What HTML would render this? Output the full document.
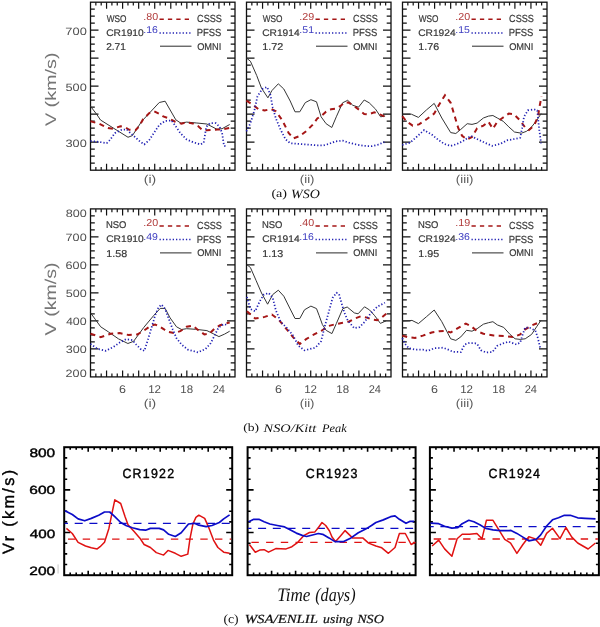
<!DOCTYPE html>
<html><head><meta charset="utf-8"><style>
html,body{margin:0;padding:0;background:#fff;}
svg{display:block;will-change:transform;} text{text-rendering:geometricPrecision;}
</style></head><body>
<svg width="600" height="627" viewBox="0 0 600 627">
<rect width="600" height="627" fill="#fff"/>
<path d="M95.85,170.20v-3.3 M95.85,2.20v3.3 M101.20,170.20v-3.3 M101.20,2.20v3.3 M106.56,170.20v-6.5 M106.56,2.20v6.5 M111.91,170.20v-3.3 M111.91,2.20v3.3 M117.26,170.20v-3.3 M117.26,2.20v3.3 M122.61,170.20v-6.5 M122.61,2.20v6.5 M127.96,170.20v-3.3 M127.96,2.20v3.3 M133.31,170.20v-3.3 M133.31,2.20v3.3 M138.67,170.20v-6.5 M138.67,2.20v6.5 M144.02,170.20v-3.3 M144.02,2.20v3.3 M149.37,170.20v-3.3 M149.37,2.20v3.3 M154.72,170.20v-6.5 M154.72,2.20v6.5 M160.07,170.20v-3.3 M160.07,2.20v3.3 M165.43,170.20v-3.3 M165.43,2.20v3.3 M170.78,170.20v-6.5 M170.78,2.20v6.5 M176.13,170.20v-3.3 M176.13,2.20v3.3 M181.48,170.20v-3.3 M181.48,2.20v3.3 M186.83,170.20v-6.5 M186.83,2.20v6.5 M192.19,170.20v-3.3 M192.19,2.20v3.3 M197.54,170.20v-3.3 M197.54,2.20v3.3 M202.89,170.20v-6.5 M202.89,2.20v6.5 M208.24,170.20v-3.3 M208.24,2.20v3.3 M213.59,170.20v-3.3 M213.59,2.20v3.3 M218.94,170.20v-6.5 M218.94,2.20v6.5 M224.30,170.20v-3.3 M224.30,2.20v3.3 M229.65,170.20v-3.3 M229.65,2.20v3.3 M90.50,163.20h4.3 M235.00,163.20h-4.3 M90.50,156.20h4.3 M235.00,156.20h-4.3 M90.50,149.20h4.3 M235.00,149.20h-4.3 M90.50,142.20h8 M235.00,142.20h-8 M90.50,135.20h4.3 M235.00,135.20h-4.3 M90.50,128.20h4.3 M235.00,128.20h-4.3 M90.50,121.20h4.3 M235.00,121.20h-4.3 M90.50,114.20h8 M235.00,114.20h-8 M90.50,107.20h4.3 M235.00,107.20h-4.3 M90.50,100.20h4.3 M235.00,100.20h-4.3 M90.50,93.20h4.3 M235.00,93.20h-4.3 M90.50,86.20h8 M235.00,86.20h-8 M90.50,79.20h4.3 M235.00,79.20h-4.3 M90.50,72.20h4.3 M235.00,72.20h-4.3 M90.50,65.20h4.3 M235.00,65.20h-4.3 M90.50,58.20h8 M235.00,58.20h-8 M90.50,51.20h4.3 M235.00,51.20h-4.3 M90.50,44.20h4.3 M235.00,44.20h-4.3 M90.50,37.20h4.3 M235.00,37.20h-4.3 M90.50,30.20h8 M235.00,30.20h-8 M90.50,23.20h4.3 M235.00,23.20h-4.3 M90.50,16.20h4.3 M235.00,16.20h-4.3 M90.50,9.20h4.3 M235.00,9.20h-4.3" stroke="#111" stroke-width="1.2" fill="none"/>
<rect x="90.50" y="2.20" width="144.5" height="168.0" stroke="#111" stroke-width="1.3" fill="none"/>
<path d="M90.50,106.25 L96.75,114.40 L100.50,120.00 L128.00,137.25 L132.40,135.60 L141.75,121.25 L159.25,102.50 L165.10,101.20 L175.80,119.80 L180.90,123.20 L186.60,122.10 L196.80,123.00 L206.90,124.00 L217.00,129.30 L222.10,128.70 L229.70,124.50" stroke="#353535" stroke-width="1" fill="none" stroke-linejoin="round"/>
<path d="M90.50,121.25 L99.25,123.75 L108.00,128.10 L113.00,128.75 L120.50,126.25 L125.50,127.50 L129.25,129.75 L135.50,130.25 L139.25,126.25 L143.00,119.40 L149.25,113.10 L154.25,111.25 L159.25,113.75 L163.20,116.40 L167.60,117.90 L175.20,121.70 L181.50,123.60 L186.60,122.30 L193.00,123.60 L198.00,126.10 L202.50,130.00 L206.90,130.30 L212.00,130.00 L217.70,129.50 L222.10,129.50 L229.70,128.00" stroke="#a51616" stroke-width="2" fill="none" stroke-dasharray="5 4.4"/>
<path d="M90.50,141.00 L99.25,141.90 L106.75,143.10 L109.90,140.00 L114.90,133.10 L121.75,129.75 L126.75,129.40 L130.50,133.10 L135.50,137.50 L140.50,141.90 L144.25,144.40 L149.25,140.00 L154.25,132.50 L159.25,125.00 L165.00,121.00 L171.40,120.40 L175.20,125.50 L180.30,133.10 L186.60,139.40 L193.00,142.20 L200.60,144.50 L203.70,142.60 L206.30,126.80 L210.00,123.20 L215.80,123.20 L219.60,126.80 L222.10,133.10 L224.00,145.80 L227.20,146.40" stroke="#2222b4" stroke-width="1.75" fill="none" stroke-dasharray="1.25 2"/>
<text x="106.66" y="21.70" font-family='"Liberation Sans", sans-serif' font-size="9.75" textLength="19.74" lengthAdjust="spacingAndGlyphs" fill="#383838" stroke="#383838" stroke-width="0.2">WSO</text>
<text x="143.34" y="19.50" font-family='"Liberation Sans", sans-serif' font-size="10.18" textLength="14.87" lengthAdjust="spacingAndGlyphs" fill="#b03a3a">.80</text>
<path d="M159.50,19.20H192.50" stroke="#a51616" stroke-width="1.5" stroke-dasharray="4.3 4.1"/>
<text x="197.04" y="22.10" font-family='"Liberation Sans", sans-serif' font-size="10.32" textLength="24.87" lengthAdjust="spacingAndGlyphs" fill="#383838" stroke="#383838" stroke-width="0.2">CSSS</text>
<text x="106.19" y="35.70" font-family='"Liberation Sans", sans-serif' font-size="9.61" textLength="37.51" lengthAdjust="spacingAndGlyphs" fill="#383838" stroke="#383838" stroke-width="0.2">CR1910</text>
<text x="143.36" y="32.80" font-family='"Liberation Sans", sans-serif' font-size="9.89" textLength="14.59" lengthAdjust="spacingAndGlyphs" fill="#3c3cc0">.16</text>
<path d="M159.50,32.90H192.50" stroke="#2222b4" stroke-width="1.5" stroke-dasharray="1.3 2"/>
<text x="196.72" y="36.10" font-family='"Liberation Sans", sans-serif' font-size="10.32" textLength="24.70" lengthAdjust="spacingAndGlyphs" fill="#383838" stroke="#383838" stroke-width="0.2">PFSS</text>
<text x="106.19" y="50.20" font-family='"Liberation Sans", sans-serif' font-size="9.89" textLength="19.70" lengthAdjust="spacingAndGlyphs" fill="#383838" stroke="#383838" stroke-width="0.2">2.71</text>
<path d="M160.00,46.20H191.50" stroke="#2a2a2a" stroke-width="1"/>
<text x="197.16" y="49.70" font-family='"Liberation Sans", sans-serif' font-size="9.75" textLength="24.21" lengthAdjust="spacingAndGlyphs" fill="#383838" stroke="#383838" stroke-width="0.2">OMNI</text>
<path d="M251.85,170.20v-3.3 M251.85,2.20v3.3 M257.20,170.20v-3.3 M257.20,2.20v3.3 M262.56,170.20v-6.5 M262.56,2.20v6.5 M267.91,170.20v-3.3 M267.91,2.20v3.3 M273.26,170.20v-3.3 M273.26,2.20v3.3 M278.61,170.20v-6.5 M278.61,2.20v6.5 M283.96,170.20v-3.3 M283.96,2.20v3.3 M289.31,170.20v-3.3 M289.31,2.20v3.3 M294.67,170.20v-6.5 M294.67,2.20v6.5 M300.02,170.20v-3.3 M300.02,2.20v3.3 M305.37,170.20v-3.3 M305.37,2.20v3.3 M310.72,170.20v-6.5 M310.72,2.20v6.5 M316.07,170.20v-3.3 M316.07,2.20v3.3 M321.43,170.20v-3.3 M321.43,2.20v3.3 M326.78,170.20v-6.5 M326.78,2.20v6.5 M332.13,170.20v-3.3 M332.13,2.20v3.3 M337.48,170.20v-3.3 M337.48,2.20v3.3 M342.83,170.20v-6.5 M342.83,2.20v6.5 M348.19,170.20v-3.3 M348.19,2.20v3.3 M353.54,170.20v-3.3 M353.54,2.20v3.3 M358.89,170.20v-6.5 M358.89,2.20v6.5 M364.24,170.20v-3.3 M364.24,2.20v3.3 M369.59,170.20v-3.3 M369.59,2.20v3.3 M374.94,170.20v-6.5 M374.94,2.20v6.5 M380.30,170.20v-3.3 M380.30,2.20v3.3 M385.65,170.20v-3.3 M385.65,2.20v3.3 M246.50,163.20h4.3 M391.00,163.20h-4.3 M246.50,156.20h4.3 M391.00,156.20h-4.3 M246.50,149.20h4.3 M391.00,149.20h-4.3 M246.50,142.20h8 M391.00,142.20h-8 M246.50,135.20h4.3 M391.00,135.20h-4.3 M246.50,128.20h4.3 M391.00,128.20h-4.3 M246.50,121.20h4.3 M391.00,121.20h-4.3 M246.50,114.20h8 M391.00,114.20h-8 M246.50,107.20h4.3 M391.00,107.20h-4.3 M246.50,100.20h4.3 M391.00,100.20h-4.3 M246.50,93.20h4.3 M391.00,93.20h-4.3 M246.50,86.20h8 M391.00,86.20h-8 M246.50,79.20h4.3 M391.00,79.20h-4.3 M246.50,72.20h4.3 M391.00,72.20h-4.3 M246.50,65.20h4.3 M391.00,65.20h-4.3 M246.50,58.20h8 M391.00,58.20h-8 M246.50,51.20h4.3 M391.00,51.20h-4.3 M246.50,44.20h4.3 M391.00,44.20h-4.3 M246.50,37.20h4.3 M391.00,37.20h-4.3 M246.50,30.20h8 M391.00,30.20h-8 M246.50,23.20h4.3 M391.00,23.20h-4.3 M246.50,16.20h4.3 M391.00,16.20h-4.3 M246.50,9.20h4.3 M391.00,9.20h-4.3" stroke="#111" stroke-width="1.2" fill="none"/>
<rect x="246.50" y="2.20" width="144.5" height="168.0" stroke="#111" stroke-width="1.3" fill="none"/>
<path d="M246.40,58.00 L250.40,61.20 L256.70,75.50 L261.50,88.20 L267.90,97.80 L271.90,90.60 L278.30,83.80 L283.80,89.00 L290.20,101.00 L295.00,111.80 L299.80,111.80 L305.30,102.60 L310.90,99.70 L316.50,101.80 L321.10,116.80 L326.10,123.70 L331.80,127.50 L336.30,116.80 L342.60,102.80 L347.70,100.30 L352.80,105.30 L358.50,107.20 L364.20,100.00 L369.20,102.80 L375.60,109.20 L380.60,116.80 L385.10,116.10" stroke="#353535" stroke-width="1" fill="none" stroke-linejoin="round"/>
<path d="M246.40,100.70 L252.00,104.20 L258.30,109.00 L264.70,110.50 L271.10,109.00 L275.90,111.30 L282.20,120.10 L288.60,132.90 L293.40,138.40 L299.80,136.00 L306.10,131.30 L312.50,124.90 L317.30,118.50 L321.10,116.10 L326.10,111.70 L331.20,109.20 L336.30,108.50 L341.30,105.30 L345.20,102.20 L349.00,102.80 L354.00,106.00 L359.10,109.80 L364.20,114.00 L368.00,114.50 L374.30,112.30 L379.40,114.20 L385.10,116.80" stroke="#a51616" stroke-width="2" fill="none" stroke-dasharray="5 4.4"/>
<path d="M246.40,131.30 L250.40,123.30 L254.40,110.50 L257.50,96.20 L262.30,89.00 L267.10,87.00 L270.30,94.60 L272.70,107.40 L275.90,118.50 L280.60,129.70 L285.40,139.20 L290.20,143.20 L299.80,144.00 L310.90,144.80 L316.00,145.30 L323.60,145.30 L328.70,144.00 L335.00,141.50 L342.60,140.60 L349.00,142.70 L356.60,144.60 L364.20,145.90 L371.80,146.20 L378.10,144.60 L384.40,142.10" stroke="#2222b4" stroke-width="1.75" fill="none" stroke-dasharray="1.25 2"/>
<text x="262.66" y="21.70" font-family='"Liberation Sans", sans-serif' font-size="9.75" textLength="19.74" lengthAdjust="spacingAndGlyphs" fill="#383838" stroke="#383838" stroke-width="0.2">WSO</text>
<text x="299.33" y="19.50" font-family='"Liberation Sans", sans-serif' font-size="10.18" textLength="14.95" lengthAdjust="spacingAndGlyphs" fill="#b03a3a">.29</text>
<path d="M315.50,19.20H348.50" stroke="#a51616" stroke-width="1.5" stroke-dasharray="4.3 4.1"/>
<text x="353.04" y="22.10" font-family='"Liberation Sans", sans-serif' font-size="10.32" textLength="24.87" lengthAdjust="spacingAndGlyphs" fill="#383838" stroke="#383838" stroke-width="0.2">CSSS</text>
<text x="262.19" y="35.70" font-family='"Liberation Sans", sans-serif' font-size="9.61" textLength="37.41" lengthAdjust="spacingAndGlyphs" fill="#383838" stroke="#383838" stroke-width="0.2">CR1914</text>
<text x="299.35" y="32.80" font-family='"Liberation Sans", sans-serif' font-size="9.89" textLength="14.65" lengthAdjust="spacingAndGlyphs" fill="#3c3cc0">.51</text>
<path d="M315.50,32.90H348.50" stroke="#2222b4" stroke-width="1.5" stroke-dasharray="1.3 2"/>
<text x="352.72" y="36.10" font-family='"Liberation Sans", sans-serif' font-size="10.32" textLength="24.70" lengthAdjust="spacingAndGlyphs" fill="#383838" stroke="#383838" stroke-width="0.2">PFSS</text>
<text x="262.29" y="50.20" font-family='"Liberation Sans", sans-serif' font-size="9.89" textLength="20.96" lengthAdjust="spacingAndGlyphs" fill="#383838" stroke="#383838" stroke-width="0.2">1.72</text>
<path d="M316.00,46.20H347.50" stroke="#2a2a2a" stroke-width="1"/>
<text x="353.16" y="49.70" font-family='"Liberation Sans", sans-serif' font-size="9.75" textLength="24.21" lengthAdjust="spacingAndGlyphs" fill="#383838" stroke="#383838" stroke-width="0.2">OMNI</text>
<path d="M407.85,170.20v-3.3 M407.85,2.20v3.3 M413.20,170.20v-3.3 M413.20,2.20v3.3 M418.56,170.20v-6.5 M418.56,2.20v6.5 M423.91,170.20v-3.3 M423.91,2.20v3.3 M429.26,170.20v-3.3 M429.26,2.20v3.3 M434.61,170.20v-6.5 M434.61,2.20v6.5 M439.96,170.20v-3.3 M439.96,2.20v3.3 M445.31,170.20v-3.3 M445.31,2.20v3.3 M450.67,170.20v-6.5 M450.67,2.20v6.5 M456.02,170.20v-3.3 M456.02,2.20v3.3 M461.37,170.20v-3.3 M461.37,2.20v3.3 M466.72,170.20v-6.5 M466.72,2.20v6.5 M472.07,170.20v-3.3 M472.07,2.20v3.3 M477.43,170.20v-3.3 M477.43,2.20v3.3 M482.78,170.20v-6.5 M482.78,2.20v6.5 M488.13,170.20v-3.3 M488.13,2.20v3.3 M493.48,170.20v-3.3 M493.48,2.20v3.3 M498.83,170.20v-6.5 M498.83,2.20v6.5 M504.19,170.20v-3.3 M504.19,2.20v3.3 M509.54,170.20v-3.3 M509.54,2.20v3.3 M514.89,170.20v-6.5 M514.89,2.20v6.5 M520.24,170.20v-3.3 M520.24,2.20v3.3 M525.59,170.20v-3.3 M525.59,2.20v3.3 M530.94,170.20v-6.5 M530.94,2.20v6.5 M536.30,170.20v-3.3 M536.30,2.20v3.3 M541.65,170.20v-3.3 M541.65,2.20v3.3 M402.50,163.20h4.3 M547.00,163.20h-4.3 M402.50,156.20h4.3 M547.00,156.20h-4.3 M402.50,149.20h4.3 M547.00,149.20h-4.3 M402.50,142.20h8 M547.00,142.20h-8 M402.50,135.20h4.3 M547.00,135.20h-4.3 M402.50,128.20h4.3 M547.00,128.20h-4.3 M402.50,121.20h4.3 M547.00,121.20h-4.3 M402.50,114.20h8 M547.00,114.20h-8 M402.50,107.20h4.3 M547.00,107.20h-4.3 M402.50,100.20h4.3 M547.00,100.20h-4.3 M402.50,93.20h4.3 M547.00,93.20h-4.3 M402.50,86.20h8 M547.00,86.20h-8 M402.50,79.20h4.3 M547.00,79.20h-4.3 M402.50,72.20h4.3 M547.00,72.20h-4.3 M402.50,65.20h4.3 M547.00,65.20h-4.3 M402.50,58.20h8 M547.00,58.20h-8 M402.50,51.20h4.3 M547.00,51.20h-4.3 M402.50,44.20h4.3 M547.00,44.20h-4.3 M402.50,37.20h4.3 M547.00,37.20h-4.3 M402.50,30.20h8 M547.00,30.20h-8 M402.50,23.20h4.3 M547.00,23.20h-4.3 M402.50,16.20h4.3 M547.00,16.20h-4.3 M402.50,9.20h4.3 M547.00,9.20h-4.3" stroke="#111" stroke-width="1.2" fill="none"/>
<rect x="402.50" y="2.20" width="144.5" height="168.0" stroke="#111" stroke-width="1.3" fill="none"/>
<path d="M402.30,114.20 L411.40,114.20 L418.40,117.40 L426.60,109.80 L434.20,103.40 L441.80,118.00 L450.70,132.60 L455.80,133.50 L460.80,129.40 L467.20,123.70 L472.00,124.40 L477.10,123.10 L483.40,118.00 L488.50,116.10 L492.90,115.50 L497.30,118.00 L503.10,121.20 L508.80,126.90 L514.50,132.00 L521.40,133.20 L526.50,131.30 L531.60,126.90 L536.60,120.60 L541.10,113.60" stroke="#353535" stroke-width="1" fill="none" stroke-linejoin="round"/>
<path d="M402.30,116.10 L406.30,121.20 L412.70,125.60 L419.00,124.40 L426.60,119.30 L434.20,113.60 L438.00,106.60 L441.80,100.30 L445.00,95.20 L450.70,102.80 L454.50,115.50 L458.30,128.20 L462.10,135.80 L467.20,139.60 L472.00,137.00 L477.10,128.20 L483.40,125.60 L488.50,121.80 L492.90,128.80 L497.30,121.80 L502.40,118.00 L508.80,113.60 L513.80,114.20 L520.20,120.60 L525.20,127.50 L529.00,130.10 L534.10,125.60 L537.90,116.80 L539.80,105.30 L541.50,96.50" stroke="#a51616" stroke-width="2" fill="none" stroke-dasharray="5 4.4"/>
<path d="M402.30,144.90 L410.10,142.70 L416.50,137.00 L424.10,130.10 L431.70,134.50 L438.00,139.60 L444.40,144.00 L450.70,145.90 L457.00,144.00 L463.40,140.80 L471.00,135.80 L476.00,138.60 L478.30,139.60 L484.70,142.70 L492.30,145.90 L499.90,144.00 L507.50,140.20 L515.10,138.90 L520.20,137.70 L522.10,128.20 L524.00,116.80 L527.80,110.40 L534.10,109.40 L537.30,110.40 L537.90,116.80 L539.20,129.40 L541.10,143.40" stroke="#2222b4" stroke-width="1.75" fill="none" stroke-dasharray="1.25 2"/>
<text x="418.66" y="21.70" font-family='"Liberation Sans", sans-serif' font-size="9.75" textLength="19.74" lengthAdjust="spacingAndGlyphs" fill="#383838" stroke="#383838" stroke-width="0.2">WSO</text>
<text x="455.34" y="19.50" font-family='"Liberation Sans", sans-serif' font-size="10.18" textLength="14.87" lengthAdjust="spacingAndGlyphs" fill="#b03a3a">.20</text>
<path d="M471.50,19.20H504.50" stroke="#a51616" stroke-width="1.5" stroke-dasharray="4.3 4.1"/>
<text x="509.04" y="22.10" font-family='"Liberation Sans", sans-serif' font-size="10.32" textLength="24.87" lengthAdjust="spacingAndGlyphs" fill="#383838" stroke="#383838" stroke-width="0.2">CSSS</text>
<text x="418.19" y="35.70" font-family='"Liberation Sans", sans-serif' font-size="9.61" textLength="37.41" lengthAdjust="spacingAndGlyphs" fill="#383838" stroke="#383838" stroke-width="0.2">CR1924</text>
<text x="455.36" y="32.80" font-family='"Liberation Sans", sans-serif' font-size="9.89" textLength="14.56" lengthAdjust="spacingAndGlyphs" fill="#3c3cc0">.15</text>
<path d="M471.50,32.90H504.50" stroke="#2222b4" stroke-width="1.5" stroke-dasharray="1.3 2"/>
<text x="508.72" y="36.10" font-family='"Liberation Sans", sans-serif' font-size="10.32" textLength="24.70" lengthAdjust="spacingAndGlyphs" fill="#383838" stroke="#383838" stroke-width="0.2">PFSS</text>
<text x="418.30" y="50.20" font-family='"Liberation Sans", sans-serif' font-size="9.89" textLength="20.87" lengthAdjust="spacingAndGlyphs" fill="#383838" stroke="#383838" stroke-width="0.2">1.76</text>
<path d="M472.00,46.20H503.50" stroke="#2a2a2a" stroke-width="1"/>
<text x="509.16" y="49.70" font-family='"Liberation Sans", sans-serif' font-size="9.75" textLength="24.21" lengthAdjust="spacingAndGlyphs" fill="#383838" stroke="#383838" stroke-width="0.2">OMNI</text>
<text x="65.36" y="34.60" font-family='"Liberation Sans", sans-serif' font-size="10.61" textLength="21.44" lengthAdjust="spacingAndGlyphs" fill="#505050">700</text>
<text x="65.49" y="90.60" font-family='"Liberation Sans", sans-serif' font-size="10.61" textLength="21.30" lengthAdjust="spacingAndGlyphs" fill="#505050">500</text>
<text x="65.52" y="146.60" font-family='"Liberation Sans", sans-serif' font-size="10.61" textLength="21.27" lengthAdjust="spacingAndGlyphs" fill="#505050">300</text>
<text transform="translate(55.50,126.10) rotate(-90)" x="0" y="0" font-family='"Liberation Sans", sans-serif' font-size="15.27" textLength="73.72" lengthAdjust="spacingAndGlyphs" fill="#767676">V (km/s)</text>
<text x="143.83" y="183.32" font-family='"Liberation Sans", sans-serif' font-size="11.47" textLength="12.42" lengthAdjust="spacingAndGlyphs" fill="#5a5a5a">(i)</text>
<text x="299.88" y="183.32" font-family='"Liberation Sans", sans-serif' font-size="11.47" textLength="14.62" lengthAdjust="spacingAndGlyphs" fill="#5a5a5a">(ii)</text>
<text x="455.87" y="183.32" font-family='"Liberation Sans", sans-serif' font-size="11.47" textLength="17.62" lengthAdjust="spacingAndGlyphs" fill="#5a5a5a">(iii)</text>
<path d="M95.85,376.90v-3.3 M95.85,208.90v3.3 M101.20,376.90v-3.3 M101.20,208.90v3.3 M106.56,376.90v-6.5 M106.56,208.90v6.5 M111.91,376.90v-3.3 M111.91,208.90v3.3 M117.26,376.90v-3.3 M117.26,208.90v3.3 M122.61,376.90v-6.5 M122.61,208.90v6.5 M127.96,376.90v-3.3 M127.96,208.90v3.3 M133.31,376.90v-3.3 M133.31,208.90v3.3 M138.67,376.90v-6.5 M138.67,208.90v6.5 M144.02,376.90v-3.3 M144.02,208.90v3.3 M149.37,376.90v-3.3 M149.37,208.90v3.3 M154.72,376.90v-6.5 M154.72,208.90v6.5 M160.07,376.90v-3.3 M160.07,208.90v3.3 M165.43,376.90v-3.3 M165.43,208.90v3.3 M170.78,376.90v-6.5 M170.78,208.90v6.5 M176.13,376.90v-3.3 M176.13,208.90v3.3 M181.48,376.90v-3.3 M181.48,208.90v3.3 M186.83,376.90v-6.5 M186.83,208.90v6.5 M192.19,376.90v-3.3 M192.19,208.90v3.3 M197.54,376.90v-3.3 M197.54,208.90v3.3 M202.89,376.90v-6.5 M202.89,208.90v6.5 M208.24,376.90v-3.3 M208.24,208.90v3.3 M213.59,376.90v-3.3 M213.59,208.90v3.3 M218.94,376.90v-6.5 M218.94,208.90v6.5 M224.30,376.90v-3.3 M224.30,208.90v3.3 M229.65,376.90v-3.3 M229.65,208.90v3.3 M90.50,369.90h4.3 M235.00,369.90h-4.3 M90.50,362.90h4.3 M235.00,362.90h-4.3 M90.50,355.90h4.3 M235.00,355.90h-4.3 M90.50,348.90h8 M235.00,348.90h-8 M90.50,341.90h4.3 M235.00,341.90h-4.3 M90.50,334.90h4.3 M235.00,334.90h-4.3 M90.50,327.90h4.3 M235.00,327.90h-4.3 M90.50,320.90h8 M235.00,320.90h-8 M90.50,313.90h4.3 M235.00,313.90h-4.3 M90.50,306.90h4.3 M235.00,306.90h-4.3 M90.50,299.90h4.3 M235.00,299.90h-4.3 M90.50,292.90h8 M235.00,292.90h-8 M90.50,285.90h4.3 M235.00,285.90h-4.3 M90.50,278.90h4.3 M235.00,278.90h-4.3 M90.50,271.90h4.3 M235.00,271.90h-4.3 M90.50,264.90h8 M235.00,264.90h-8 M90.50,257.90h4.3 M235.00,257.90h-4.3 M90.50,250.90h4.3 M235.00,250.90h-4.3 M90.50,243.90h4.3 M235.00,243.90h-4.3 M90.50,236.90h8 M235.00,236.90h-8 M90.50,229.90h4.3 M235.00,229.90h-4.3 M90.50,222.90h4.3 M235.00,222.90h-4.3 M90.50,215.90h4.3 M235.00,215.90h-4.3" stroke="#111" stroke-width="1.2" fill="none"/>
<rect x="90.50" y="208.90" width="144.5" height="168.0" stroke="#111" stroke-width="1.3" fill="none"/>
<path d="M90.50,312.80 L95.60,319.80 L100.70,326.80 L108.30,331.80 L118.40,338.80 L127.90,343.50 L133.60,341.30 L143.80,327.40 L153.90,315.30 L160.20,308.40 L165.10,308.40 L170.10,317.90 L176.50,326.80 L181.50,329.50 L186.60,328.70 L195.50,329.30 L206.90,330.60 L213.20,333.70 L218.90,336.60 L224.60,334.10 L229.70,331.20" stroke="#353535" stroke-width="1" fill="none" stroke-linejoin="round"/>
<path d="M90.50,333.70 L100.70,337.10 L110.80,333.70 L119.70,333.10 L128.60,335.00 L137.40,334.40 L143.80,330.60 L151.40,325.50 L155.20,324.50 L160.20,326.80 L164.00,329.30 L167.60,331.80 L174.00,333.10 L180.30,331.20 L186.60,326.80 L193.00,325.70 L198.00,329.90 L204.40,334.40 L209.40,333.70 L214.50,328.70 L219.60,325.50 L224.60,323.60 L229.70,322.50" stroke="#a51616" stroke-width="2" fill="none" stroke-dasharray="5 4.4"/>
<path d="M90.50,343.90 L96.90,348.60 L105.70,350.80 L113.30,347.00 L119.70,342.60 L126.00,339.20 L132.40,340.10 L136.20,344.50 L141.20,349.60 L144.40,350.80 L147.60,340.70 L151.40,328.00 L155.20,315.30 L158.30,307.70 L161.50,304.60 L165.10,309.00 L168.90,319.20 L172.70,329.30 L176.50,338.20 L181.50,344.50 L187.90,349.60 L198.00,352.40 L205.60,348.90 L210.70,343.20 L214.50,335.60 L218.30,328.00 L223.40,324.20 L227.20,324.90" stroke="#2222b4" stroke-width="1.75" fill="none" stroke-dasharray="1.25 2"/>
<text x="105.92" y="228.40" font-family='"Liberation Sans", sans-serif' font-size="9.75" textLength="20.53" lengthAdjust="spacingAndGlyphs" fill="#383838" stroke="#383838" stroke-width="0.2">NSO</text>
<text x="143.34" y="226.20" font-family='"Liberation Sans", sans-serif' font-size="10.18" textLength="14.87" lengthAdjust="spacingAndGlyphs" fill="#b03a3a">.20</text>
<path d="M159.50,225.90H192.50" stroke="#a51616" stroke-width="1.5" stroke-dasharray="4.3 4.1"/>
<text x="197.04" y="228.80" font-family='"Liberation Sans", sans-serif' font-size="10.32" textLength="24.87" lengthAdjust="spacingAndGlyphs" fill="#383838" stroke="#383838" stroke-width="0.2">CSSS</text>
<text x="106.19" y="242.40" font-family='"Liberation Sans", sans-serif' font-size="9.61" textLength="37.51" lengthAdjust="spacingAndGlyphs" fill="#383838" stroke="#383838" stroke-width="0.2">CR1910</text>
<text x="143.35" y="239.50" font-family='"Liberation Sans", sans-serif' font-size="9.89" textLength="14.62" lengthAdjust="spacingAndGlyphs" fill="#3c3cc0">.49</text>
<path d="M159.50,239.60H192.50" stroke="#2222b4" stroke-width="1.5" stroke-dasharray="1.3 2"/>
<text x="196.72" y="242.80" font-family='"Liberation Sans", sans-serif' font-size="10.32" textLength="24.70" lengthAdjust="spacingAndGlyphs" fill="#383838" stroke="#383838" stroke-width="0.2">PFSS</text>
<text x="106.30" y="256.90" font-family='"Liberation Sans", sans-serif' font-size="9.89" textLength="20.87" lengthAdjust="spacingAndGlyphs" fill="#383838" stroke="#383838" stroke-width="0.2">1.58</text>
<path d="M160.00,252.90H191.50" stroke="#2a2a2a" stroke-width="1"/>
<text x="197.16" y="256.40" font-family='"Liberation Sans", sans-serif' font-size="9.75" textLength="24.21" lengthAdjust="spacingAndGlyphs" fill="#383838" stroke="#383838" stroke-width="0.2">OMNI</text>
<path d="M251.85,376.90v-3.3 M251.85,208.90v3.3 M257.20,376.90v-3.3 M257.20,208.90v3.3 M262.56,376.90v-6.5 M262.56,208.90v6.5 M267.91,376.90v-3.3 M267.91,208.90v3.3 M273.26,376.90v-3.3 M273.26,208.90v3.3 M278.61,376.90v-6.5 M278.61,208.90v6.5 M283.96,376.90v-3.3 M283.96,208.90v3.3 M289.31,376.90v-3.3 M289.31,208.90v3.3 M294.67,376.90v-6.5 M294.67,208.90v6.5 M300.02,376.90v-3.3 M300.02,208.90v3.3 M305.37,376.90v-3.3 M305.37,208.90v3.3 M310.72,376.90v-6.5 M310.72,208.90v6.5 M316.07,376.90v-3.3 M316.07,208.90v3.3 M321.43,376.90v-3.3 M321.43,208.90v3.3 M326.78,376.90v-6.5 M326.78,208.90v6.5 M332.13,376.90v-3.3 M332.13,208.90v3.3 M337.48,376.90v-3.3 M337.48,208.90v3.3 M342.83,376.90v-6.5 M342.83,208.90v6.5 M348.19,376.90v-3.3 M348.19,208.90v3.3 M353.54,376.90v-3.3 M353.54,208.90v3.3 M358.89,376.90v-6.5 M358.89,208.90v6.5 M364.24,376.90v-3.3 M364.24,208.90v3.3 M369.59,376.90v-3.3 M369.59,208.90v3.3 M374.94,376.90v-6.5 M374.94,208.90v6.5 M380.30,376.90v-3.3 M380.30,208.90v3.3 M385.65,376.90v-3.3 M385.65,208.90v3.3 M246.50,369.90h4.3 M391.00,369.90h-4.3 M246.50,362.90h4.3 M391.00,362.90h-4.3 M246.50,355.90h4.3 M391.00,355.90h-4.3 M246.50,348.90h8 M391.00,348.90h-8 M246.50,341.90h4.3 M391.00,341.90h-4.3 M246.50,334.90h4.3 M391.00,334.90h-4.3 M246.50,327.90h4.3 M391.00,327.90h-4.3 M246.50,320.90h8 M391.00,320.90h-8 M246.50,313.90h4.3 M391.00,313.90h-4.3 M246.50,306.90h4.3 M391.00,306.90h-4.3 M246.50,299.90h4.3 M391.00,299.90h-4.3 M246.50,292.90h8 M391.00,292.90h-8 M246.50,285.90h4.3 M391.00,285.90h-4.3 M246.50,278.90h4.3 M391.00,278.90h-4.3 M246.50,271.90h4.3 M391.00,271.90h-4.3 M246.50,264.90h8 M391.00,264.90h-8 M246.50,257.90h4.3 M391.00,257.90h-4.3 M246.50,250.90h4.3 M391.00,250.90h-4.3 M246.50,243.90h4.3 M391.00,243.90h-4.3 M246.50,236.90h8 M391.00,236.90h-8 M246.50,229.90h4.3 M391.00,229.90h-4.3 M246.50,222.90h4.3 M391.00,222.90h-4.3 M246.50,215.90h4.3 M391.00,215.90h-4.3" stroke="#111" stroke-width="1.2" fill="none"/>
<rect x="246.50" y="208.90" width="144.5" height="168.0" stroke="#111" stroke-width="1.3" fill="none"/>
<path d="M246.90,264.70 L250.40,267.50 L256.00,280.30 L261.50,293.00 L267.60,304.20 L272.70,294.60 L278.30,290.20 L283.80,296.20 L290.20,309.00 L295.00,318.50 L299.80,318.50 L304.50,309.80 L310.90,306.10 L316.50,308.60 L319.20,315.70 L322.40,324.60 L326.20,330.40 L331.90,333.60 L336.40,323.40 L342.80,308.70 L347.20,307.00 L354.30,312.90 L358.10,313.80 L364.50,306.80 L369.60,310.00 L374.70,315.70 L380.40,323.40 L386.20,320.80" stroke="#353535" stroke-width="1" fill="none" stroke-linejoin="round"/>
<path d="M246.90,311.30 L255.20,318.50 L264.70,316.90 L271.90,314.50 L279.10,320.10 L287.00,329.70 L293.40,337.60 L299.80,344.00 L306.10,339.20 L314.10,334.40 L321.10,331.00 L328.80,325.90 L336.40,324.00 L342.80,322.70 L349.20,321.50 L355.50,318.30 L360.60,316.40 L367.00,317.60 L372.10,319.50 L377.20,320.20 L382.30,317.00 L386.20,313.80" stroke="#a51616" stroke-width="2" fill="none" stroke-dasharray="5 4.4"/>
<path d="M246.90,297.00 L250.40,309.00 L255.20,311.30 L259.90,301.00 L263.90,294.60 L268.70,293.00 L272.70,297.80 L275.90,310.50 L280.60,321.70 L287.00,328.10 L293.40,336.00 L298.20,345.60 L304.50,350.40 L314.10,348.00 L316.00,347.00 L321.10,341.20 L324.90,325.90 L328.80,311.90 L332.60,297.90 L336.40,292.80 L339.00,294.00 L341.50,303.00 L344.10,311.90 L347.90,320.80 L354.30,328.20 L359.40,327.20 L364.50,322.10 L370.80,313.20 L377.20,306.80 L384.90,302.70" stroke="#2222b4" stroke-width="1.75" fill="none" stroke-dasharray="1.25 2"/>
<text x="261.92" y="228.40" font-family='"Liberation Sans", sans-serif' font-size="9.75" textLength="20.53" lengthAdjust="spacingAndGlyphs" fill="#383838" stroke="#383838" stroke-width="0.2">NSO</text>
<text x="299.34" y="226.20" font-family='"Liberation Sans", sans-serif' font-size="10.18" textLength="14.87" lengthAdjust="spacingAndGlyphs" fill="#b03a3a">.40</text>
<path d="M315.50,225.90H348.50" stroke="#a51616" stroke-width="1.5" stroke-dasharray="4.3 4.1"/>
<text x="353.04" y="228.80" font-family='"Liberation Sans", sans-serif' font-size="10.32" textLength="24.87" lengthAdjust="spacingAndGlyphs" fill="#383838" stroke="#383838" stroke-width="0.2">CSSS</text>
<text x="262.19" y="242.40" font-family='"Liberation Sans", sans-serif' font-size="9.61" textLength="37.41" lengthAdjust="spacingAndGlyphs" fill="#383838" stroke="#383838" stroke-width="0.2">CR1914</text>
<text x="299.36" y="239.50" font-family='"Liberation Sans", sans-serif' font-size="9.89" textLength="14.59" lengthAdjust="spacingAndGlyphs" fill="#3c3cc0">.16</text>
<path d="M315.50,239.60H348.50" stroke="#2222b4" stroke-width="1.5" stroke-dasharray="1.3 2"/>
<text x="352.72" y="242.80" font-family='"Liberation Sans", sans-serif' font-size="10.32" textLength="24.70" lengthAdjust="spacingAndGlyphs" fill="#383838" stroke="#383838" stroke-width="0.2">PFSS</text>
<text x="262.30" y="256.90" font-family='"Liberation Sans", sans-serif' font-size="9.89" textLength="20.87" lengthAdjust="spacingAndGlyphs" fill="#383838" stroke="#383838" stroke-width="0.2">1.13</text>
<path d="M316.00,252.90H347.50" stroke="#2a2a2a" stroke-width="1"/>
<text x="353.16" y="256.40" font-family='"Liberation Sans", sans-serif' font-size="9.75" textLength="24.21" lengthAdjust="spacingAndGlyphs" fill="#383838" stroke="#383838" stroke-width="0.2">OMNI</text>
<path d="M407.85,376.90v-3.3 M407.85,208.90v3.3 M413.20,376.90v-3.3 M413.20,208.90v3.3 M418.56,376.90v-6.5 M418.56,208.90v6.5 M423.91,376.90v-3.3 M423.91,208.90v3.3 M429.26,376.90v-3.3 M429.26,208.90v3.3 M434.61,376.90v-6.5 M434.61,208.90v6.5 M439.96,376.90v-3.3 M439.96,208.90v3.3 M445.31,376.90v-3.3 M445.31,208.90v3.3 M450.67,376.90v-6.5 M450.67,208.90v6.5 M456.02,376.90v-3.3 M456.02,208.90v3.3 M461.37,376.90v-3.3 M461.37,208.90v3.3 M466.72,376.90v-6.5 M466.72,208.90v6.5 M472.07,376.90v-3.3 M472.07,208.90v3.3 M477.43,376.90v-3.3 M477.43,208.90v3.3 M482.78,376.90v-6.5 M482.78,208.90v6.5 M488.13,376.90v-3.3 M488.13,208.90v3.3 M493.48,376.90v-3.3 M493.48,208.90v3.3 M498.83,376.90v-6.5 M498.83,208.90v6.5 M504.19,376.90v-3.3 M504.19,208.90v3.3 M509.54,376.90v-3.3 M509.54,208.90v3.3 M514.89,376.90v-6.5 M514.89,208.90v6.5 M520.24,376.90v-3.3 M520.24,208.90v3.3 M525.59,376.90v-3.3 M525.59,208.90v3.3 M530.94,376.90v-6.5 M530.94,208.90v6.5 M536.30,376.90v-3.3 M536.30,208.90v3.3 M541.65,376.90v-3.3 M541.65,208.90v3.3 M402.50,369.90h4.3 M547.00,369.90h-4.3 M402.50,362.90h4.3 M547.00,362.90h-4.3 M402.50,355.90h4.3 M547.00,355.90h-4.3 M402.50,348.90h8 M547.00,348.90h-8 M402.50,341.90h4.3 M547.00,341.90h-4.3 M402.50,334.90h4.3 M547.00,334.90h-4.3 M402.50,327.90h4.3 M547.00,327.90h-4.3 M402.50,320.90h8 M547.00,320.90h-8 M402.50,313.90h4.3 M547.00,313.90h-4.3 M402.50,306.90h4.3 M547.00,306.90h-4.3 M402.50,299.90h4.3 M547.00,299.90h-4.3 M402.50,292.90h8 M547.00,292.90h-8 M402.50,285.90h4.3 M547.00,285.90h-4.3 M402.50,278.90h4.3 M547.00,278.90h-4.3 M402.50,271.90h4.3 M547.00,271.90h-4.3 M402.50,264.90h8 M547.00,264.90h-8 M402.50,257.90h4.3 M547.00,257.90h-4.3 M402.50,250.90h4.3 M547.00,250.90h-4.3 M402.50,243.90h4.3 M547.00,243.90h-4.3 M402.50,236.90h8 M547.00,236.90h-8 M402.50,229.90h4.3 M547.00,229.90h-4.3 M402.50,222.90h4.3 M547.00,222.90h-4.3 M402.50,215.90h4.3 M547.00,215.90h-4.3" stroke="#111" stroke-width="1.2" fill="none"/>
<rect x="402.50" y="208.90" width="144.5" height="168.0" stroke="#111" stroke-width="1.3" fill="none"/>
<path d="M402.30,321.10 L412.00,320.40 L418.40,323.60 L426.60,316.60 L434.20,310.00 L441.80,321.70 L450.70,338.80 L455.80,340.40 L460.80,336.90 L466.50,330.30 L472.00,331.20 L477.10,328.70 L483.40,324.20 L488.50,322.70 L492.90,321.70 L497.30,324.90 L503.70,327.40 L510.00,334.40 L515.10,338.80 L520.20,339.40 L525.20,338.80 L531.60,334.40 L536.60,326.80 L541.10,320.20" stroke="#353535" stroke-width="1" fill="none" stroke-linejoin="round"/>
<path d="M402.30,335.60 L407.60,337.10 L415.20,337.90 L422.80,335.60 L431.70,332.50 L439.30,331.20 L445.60,330.80 L450.70,332.50 L457.00,328.70 L465.90,323.60 L471.00,326.10 L477.10,331.20 L483.40,333.70 L493.50,335.60 L503.70,335.90 L513.80,337.10 L520.20,334.40 L525.20,329.30 L531.60,325.50 L539.20,322.30" stroke="#a51616" stroke-width="2" fill="none" stroke-dasharray="5 4.4"/>
<path d="M402.30,338.20 L405.10,343.90 L408.90,348.30 L415.20,349.60 L422.80,349.60 L427.90,350.80 L434.20,348.30 L443.10,347.70 L448.20,349.60 L453.20,351.80 L460.80,352.10 L464.60,344.50 L468.40,343.20 L474.80,343.20 L477.10,343.90 L480.90,350.20 L485.90,352.40 L492.30,352.10 L497.30,345.80 L503.70,343.20 L508.80,341.70 L516.40,344.50 L520.20,342.60 L522.70,334.40 L525.20,327.40 L530.30,328.00 L535.40,330.60 L537.90,338.20 L540.40,348.90" stroke="#2222b4" stroke-width="1.75" fill="none" stroke-dasharray="1.25 2"/>
<text x="417.92" y="228.40" font-family='"Liberation Sans", sans-serif' font-size="9.75" textLength="20.53" lengthAdjust="spacingAndGlyphs" fill="#383838" stroke="#383838" stroke-width="0.2">NSO</text>
<text x="455.33" y="226.20" font-family='"Liberation Sans", sans-serif' font-size="10.18" textLength="14.95" lengthAdjust="spacingAndGlyphs" fill="#b03a3a">.19</text>
<path d="M471.50,225.90H504.50" stroke="#a51616" stroke-width="1.5" stroke-dasharray="4.3 4.1"/>
<text x="509.04" y="228.80" font-family='"Liberation Sans", sans-serif' font-size="10.32" textLength="24.87" lengthAdjust="spacingAndGlyphs" fill="#383838" stroke="#383838" stroke-width="0.2">CSSS</text>
<text x="418.19" y="242.40" font-family='"Liberation Sans", sans-serif' font-size="9.61" textLength="37.41" lengthAdjust="spacingAndGlyphs" fill="#383838" stroke="#383838" stroke-width="0.2">CR1924</text>
<text x="455.36" y="239.50" font-family='"Liberation Sans", sans-serif' font-size="9.89" textLength="14.59" lengthAdjust="spacingAndGlyphs" fill="#3c3cc0">.36</text>
<path d="M471.50,239.60H504.50" stroke="#2222b4" stroke-width="1.5" stroke-dasharray="1.3 2"/>
<text x="508.72" y="242.80" font-family='"Liberation Sans", sans-serif' font-size="10.32" textLength="24.70" lengthAdjust="spacingAndGlyphs" fill="#383838" stroke="#383838" stroke-width="0.2">PFSS</text>
<text x="418.30" y="256.90" font-family='"Liberation Sans", sans-serif' font-size="9.89" textLength="20.85" lengthAdjust="spacingAndGlyphs" fill="#383838" stroke="#383838" stroke-width="0.2">1.95</text>
<path d="M472.00,252.90H503.50" stroke="#2a2a2a" stroke-width="1"/>
<text x="509.16" y="256.40" font-family='"Liberation Sans", sans-serif' font-size="9.75" textLength="24.21" lengthAdjust="spacingAndGlyphs" fill="#383838" stroke="#383838" stroke-width="0.2">OMNI</text>
<text x="65.66" y="216.70" font-family='"Liberation Sans", sans-serif' font-size="10.61" textLength="21.02" lengthAdjust="spacingAndGlyphs" fill="#505050">800</text>
<text x="65.57" y="241.20" font-family='"Liberation Sans", sans-serif' font-size="10.61" textLength="21.12" lengthAdjust="spacingAndGlyphs" fill="#505050">700</text>
<text x="65.57" y="269.00" font-family='"Liberation Sans", sans-serif' font-size="10.61" textLength="21.12" lengthAdjust="spacingAndGlyphs" fill="#505050">600</text>
<text x="65.70" y="297.00" font-family='"Liberation Sans", sans-serif' font-size="10.61" textLength="20.99" lengthAdjust="spacingAndGlyphs" fill="#505050">500</text>
<text x="65.92" y="325.00" font-family='"Liberation Sans", sans-serif' font-size="10.61" textLength="20.76" lengthAdjust="spacingAndGlyphs" fill="#505050">400</text>
<text x="65.73" y="353.30" font-family='"Liberation Sans", sans-serif' font-size="10.61" textLength="20.95" lengthAdjust="spacingAndGlyphs" fill="#505050">300</text>
<text x="65.57" y="376.90" font-family='"Liberation Sans", sans-serif' font-size="10.61" textLength="21.12" lengthAdjust="spacingAndGlyphs" fill="#505050">200</text>
<text transform="translate(55.50,335.40) rotate(-90)" x="0" y="0" font-family='"Liberation Sans", sans-serif' font-size="15.71" textLength="73.01" lengthAdjust="spacingAndGlyphs" fill="#767676">V (km/s)</text>
<text x="119.08" y="393.40" font-family='"Liberation Sans", sans-serif' font-size="11.18" textLength="6.97" lengthAdjust="spacingAndGlyphs" fill="#505050">6</text>
<text x="148.15" y="393.40" font-family='"Liberation Sans", sans-serif' font-size="11.18" textLength="12.87" lengthAdjust="spacingAndGlyphs" fill="#505050">12</text>
<text x="180.27" y="393.40" font-family='"Liberation Sans", sans-serif' font-size="11.18" textLength="12.78" lengthAdjust="spacingAndGlyphs" fill="#505050">18</text>
<text x="212.69" y="393.40" font-family='"Liberation Sans", sans-serif' font-size="11.18" textLength="12.28" lengthAdjust="spacingAndGlyphs" fill="#505050">24</text>
<text x="275.08" y="393.40" font-family='"Liberation Sans", sans-serif' font-size="11.18" textLength="6.97" lengthAdjust="spacingAndGlyphs" fill="#505050">6</text>
<text x="304.15" y="393.40" font-family='"Liberation Sans", sans-serif' font-size="11.18" textLength="12.87" lengthAdjust="spacingAndGlyphs" fill="#505050">12</text>
<text x="336.27" y="393.40" font-family='"Liberation Sans", sans-serif' font-size="11.18" textLength="12.78" lengthAdjust="spacingAndGlyphs" fill="#505050">18</text>
<text x="368.69" y="393.40" font-family='"Liberation Sans", sans-serif' font-size="11.18" textLength="12.28" lengthAdjust="spacingAndGlyphs" fill="#505050">24</text>
<text x="431.08" y="393.40" font-family='"Liberation Sans", sans-serif' font-size="11.18" textLength="6.97" lengthAdjust="spacingAndGlyphs" fill="#505050">6</text>
<text x="460.15" y="393.40" font-family='"Liberation Sans", sans-serif' font-size="11.18" textLength="12.87" lengthAdjust="spacingAndGlyphs" fill="#505050">12</text>
<text x="492.27" y="393.40" font-family='"Liberation Sans", sans-serif' font-size="11.18" textLength="12.78" lengthAdjust="spacingAndGlyphs" fill="#505050">18</text>
<text x="524.69" y="393.40" font-family='"Liberation Sans", sans-serif' font-size="11.18" textLength="12.28" lengthAdjust="spacingAndGlyphs" fill="#505050">24</text>
<text x="143.83" y="406.94" font-family='"Liberation Sans", sans-serif' font-size="11.37" textLength="12.42" lengthAdjust="spacingAndGlyphs" fill="#5a5a5a">(i)</text>
<text x="299.88" y="406.94" font-family='"Liberation Sans", sans-serif' font-size="11.37" textLength="14.62" lengthAdjust="spacingAndGlyphs" fill="#5a5a5a">(ii)</text>
<text x="455.87" y="406.94" font-family='"Liberation Sans", sans-serif' font-size="11.37" textLength="17.62" lengthAdjust="spacingAndGlyphs" fill="#5a5a5a">(iii)</text>
<text x="271.40" y="197.12" font-family='"Liberation Serif", serif' font-size="11.68" textLength="15.70" lengthAdjust="spacingAndGlyphs" fill="#111">(a)</text>
<text x="291.09" y="197.80" font-family='"Liberation Serif", serif' font-size="12.68" font-style="italic" textLength="28.73" lengthAdjust="spacingAndGlyphs" fill="#111">WSO</text>
<text x="243.22" y="431.16" font-family='"Liberation Serif", serif' font-size="11.02" textLength="15.87" lengthAdjust="spacingAndGlyphs" fill="#111">(b)</text>
<text x="263.61" y="431.60" font-family='"Liberation Serif", serif' font-size="11.60" font-style="italic" textLength="52.61" lengthAdjust="spacingAndGlyphs" fill="#111">NSO/Kitt</text>
<text x="322.06" y="431.60" font-family='"Liberation Serif", serif' font-size="11.60" font-style="italic" textLength="24.77" lengthAdjust="spacingAndGlyphs" fill="#111">Peak</text>
<path d="M70.20,575.20v-2.6 M70.20,447.20v2.6 M76.20,575.20v-2.6 M76.20,447.20v2.6 M82.20,575.20v-2.6 M82.20,447.20v2.6 M88.20,575.20v-4.5 M88.20,447.20v4.5 M94.20,575.20v-2.6 M94.20,447.20v2.6 M100.20,575.20v-2.6 M100.20,447.20v2.6 M106.20,575.20v-2.6 M106.20,447.20v2.6 M112.20,575.20v-4.5 M112.20,447.20v4.5 M118.20,575.20v-2.6 M118.20,447.20v2.6 M124.20,575.20v-2.6 M124.20,447.20v2.6 M130.20,575.20v-2.6 M130.20,447.20v2.6 M136.20,575.20v-4.5 M136.20,447.20v4.5 M142.20,575.20v-2.6 M142.20,447.20v2.6 M148.20,575.20v-2.6 M148.20,447.20v2.6 M154.20,575.20v-2.6 M154.20,447.20v2.6 M160.20,575.20v-4.5 M160.20,447.20v4.5 M166.20,575.20v-2.6 M166.20,447.20v2.6 M172.20,575.20v-2.6 M172.20,447.20v2.6 M178.20,575.20v-2.6 M178.20,447.20v2.6 M184.20,575.20v-4.5 M184.20,447.20v4.5 M190.20,575.20v-2.6 M190.20,447.20v2.6 M196.20,575.20v-2.6 M196.20,447.20v2.6 M202.20,575.20v-2.6 M202.20,447.20v2.6 M208.20,575.20v-4.5 M208.20,447.20v4.5 M214.20,575.20v-2.6 M214.20,447.20v2.6 M220.20,575.20v-2.6 M220.20,447.20v2.6 M226.20,575.20v-2.6 M226.20,447.20v2.6 M64.20,564.53h3.0 M232.20,564.53h-3.0 M64.20,553.87h3.0 M232.20,553.87h-3.0 M64.20,543.20h3.0 M232.20,543.20h-3.0 M64.20,532.53h6.0 M232.20,532.53h-6.0 M64.20,521.87h3.0 M232.20,521.87h-3.0 M64.20,511.20h3.0 M232.20,511.20h-3.0 M64.20,500.53h3.0 M232.20,500.53h-3.0 M64.20,489.87h6.0 M232.20,489.87h-6.0 M64.20,479.20h3.0 M232.20,479.20h-3.0 M64.20,468.53h3.0 M232.20,468.53h-3.0 M64.20,457.87h3.0 M232.20,457.87h-3.0" stroke="#000" stroke-width="1.6" fill="none"/>
<rect x="64.20" y="447.20" width="168.0" height="128.0" stroke="#000" stroke-width="2" fill="none"/>
<path d="M64.70,523.30H231.20" stroke="#0c0cc8" stroke-width="1.3" stroke-dasharray="8 6.7" stroke-dashoffset="4.7"/>
<path d="M68.00,539.10H231.20" stroke="#e01212" stroke-width="1.3" stroke-dasharray="7.4 7.3"/>
<path d="M66.40,528.40 L72.30,533.50 L78.10,542.30 L85.50,546.00 L91.30,547.80 L97.20,548.90 L100.10,546.70 L104.50,542.30 L108.90,528.40 L111.90,513.70 L114.80,499.80 L120.70,503.50 L125.10,516.70 L128.00,524.70 L133.90,531.30 L139.70,537.90 L144.10,544.50 L150.40,547.50 L156.30,552.60 L163.60,555.10 L168.00,550.40 L175.30,553.30 L181.20,556.30 L187.80,554.10 L190.00,538.70 L192.90,524.00 L195.90,517.40 L198.80,515.20 L204.70,518.40 L209.10,528.40 L213.50,540.10 L217.90,547.50 L223.70,552.20 L229.60,553.30" stroke="#e01212" stroke-width="1.5" fill="none" stroke-linejoin="round"/>
<path d="M64.90,510.80 L72.30,514.50 L78.10,518.90 L84.70,520.80 L91.30,518.40 L98.70,515.20 L104.50,512.00 L109.70,512.00 L114.80,516.70 L120.70,522.50 L126.50,525.80 L132.40,527.70 L139.70,529.60 L145.60,530.20 L150.40,528.40 L159.20,528.40 L163.60,529.90 L168.70,534.30 L175.30,536.50 L181.20,532.80 L188.50,524.00 L194.40,523.30 L198.80,525.20 L206.10,526.60 L212.00,525.50 L219.30,522.50 L223.70,518.90 L229.60,514.90" stroke="#0c0cc8" stroke-width="1.7" fill="none" stroke-linejoin="round"/>
<text transform="translate(122.38,478.00) scale(0.93,1)" x="0" y="0" font-family='"Liberation Sans", sans-serif' font-size="13.33" textLength="55.55" lengthAdjust="spacing" fill="#000" stroke="#000" stroke-width="0.4">CR1922</text>
<path d="M253.60,575.20v-2.6 M253.60,447.20v2.6 M259.60,575.20v-2.6 M259.60,447.20v2.6 M265.60,575.20v-2.6 M265.60,447.20v2.6 M271.60,575.20v-4.5 M271.60,447.20v4.5 M277.60,575.20v-2.6 M277.60,447.20v2.6 M283.60,575.20v-2.6 M283.60,447.20v2.6 M289.60,575.20v-2.6 M289.60,447.20v2.6 M295.60,575.20v-4.5 M295.60,447.20v4.5 M301.60,575.20v-2.6 M301.60,447.20v2.6 M307.60,575.20v-2.6 M307.60,447.20v2.6 M313.60,575.20v-2.6 M313.60,447.20v2.6 M319.60,575.20v-4.5 M319.60,447.20v4.5 M325.60,575.20v-2.6 M325.60,447.20v2.6 M331.60,575.20v-2.6 M331.60,447.20v2.6 M337.60,575.20v-2.6 M337.60,447.20v2.6 M343.60,575.20v-4.5 M343.60,447.20v4.5 M349.60,575.20v-2.6 M349.60,447.20v2.6 M355.60,575.20v-2.6 M355.60,447.20v2.6 M361.60,575.20v-2.6 M361.60,447.20v2.6 M367.60,575.20v-4.5 M367.60,447.20v4.5 M373.60,575.20v-2.6 M373.60,447.20v2.6 M379.60,575.20v-2.6 M379.60,447.20v2.6 M385.60,575.20v-2.6 M385.60,447.20v2.6 M391.60,575.20v-4.5 M391.60,447.20v4.5 M397.60,575.20v-2.6 M397.60,447.20v2.6 M403.60,575.20v-2.6 M403.60,447.20v2.6 M409.60,575.20v-2.6 M409.60,447.20v2.6 M247.60,564.53h3.0 M415.60,564.53h-3.0 M247.60,553.87h3.0 M415.60,553.87h-3.0 M247.60,543.20h3.0 M415.60,543.20h-3.0 M247.60,532.53h6.0 M415.60,532.53h-6.0 M247.60,521.87h3.0 M415.60,521.87h-3.0 M247.60,511.20h3.0 M415.60,511.20h-3.0 M247.60,500.53h3.0 M415.60,500.53h-3.0 M247.60,489.87h6.0 M415.60,489.87h-6.0 M247.60,479.20h3.0 M415.60,479.20h-3.0 M247.60,468.53h3.0 M415.60,468.53h-3.0 M247.60,457.87h3.0 M415.60,457.87h-3.0" stroke="#000" stroke-width="1.6" fill="none"/>
<rect x="247.60" y="447.20" width="168.0" height="128.0" stroke="#000" stroke-width="2" fill="none"/>
<path d="M248.10,528.40H414.60" stroke="#0c0cc8" stroke-width="1.3" stroke-dasharray="8 6.7" stroke-dashoffset="4.7"/>
<path d="M251.40,542.30H414.60" stroke="#e01212" stroke-width="1.3" stroke-dasharray="7.4 7.3"/>
<path d="M249.40,544.50 L255.30,552.20 L259.70,550.10 L264.10,549.70 L268.50,552.20 L275.80,548.60 L286.10,548.90 L291.90,546.70 L297.80,542.30 L303.70,535.70 L309.50,532.50 L314.70,532.10 L318.30,527.70 L322.00,522.50 L325.70,525.50 L329.50,531.00 L332.00,537.00 L335.60,541.60 L340.70,535.70 L345.10,530.60 L352.50,537.90 L362.70,537.90 L368.60,543.10 L375.90,546.00 L381.80,547.80 L388.40,553.30 L395.00,547.50 L399.40,533.50 L405.30,533.50 L411.10,544.50 L415.50,542.30" stroke="#e01212" stroke-width="1.5" fill="none" stroke-linejoin="round"/>
<path d="M248.70,521.80 L253.80,519.30 L258.90,519.30 L264.10,521.80 L269.90,524.00 L277.30,525.50 L284.60,526.90 L290.50,529.90 L296.30,533.10 L302.20,535.40 L306.60,536.50 L312.50,535.00 L318.30,533.50 L322.70,534.30 L329.00,537.90 L334.90,541.60 L343.70,541.60 L351.00,537.90 L358.30,532.80 L365.70,529.10 L371.50,525.50 L375.90,522.50 L383.30,519.90 L390.60,516.70 L395.00,515.90 L399.40,519.30 L406.00,523.30 L409.70,521.40 L414.10,521.40" stroke="#0c0cc8" stroke-width="1.7" fill="none" stroke-linejoin="round"/>
<text transform="translate(305.78,478.00) scale(0.93,1)" x="0" y="0" font-family='"Liberation Sans", sans-serif' font-size="13.33" textLength="55.45" lengthAdjust="spacing" fill="#000" stroke="#000" stroke-width="0.4">CR1923</text>
<path d="M435.94,575.20v-2.6 M435.94,447.20v2.6 M441.97,575.20v-2.6 M441.97,447.20v2.6 M448.01,575.20v-2.6 M448.01,447.20v2.6 M454.04,575.20v-4.5 M454.04,447.20v4.5 M460.08,575.20v-2.6 M460.08,447.20v2.6 M466.11,575.20v-2.6 M466.11,447.20v2.6 M472.15,575.20v-2.6 M472.15,447.20v2.6 M478.19,575.20v-4.5 M478.19,447.20v4.5 M484.22,575.20v-2.6 M484.22,447.20v2.6 M490.26,575.20v-2.6 M490.26,447.20v2.6 M496.29,575.20v-2.6 M496.29,447.20v2.6 M502.33,575.20v-4.5 M502.33,447.20v4.5 M508.36,575.20v-2.6 M508.36,447.20v2.6 M514.40,575.20v-2.6 M514.40,447.20v2.6 M520.44,575.20v-2.6 M520.44,447.20v2.6 M526.47,575.20v-4.5 M526.47,447.20v4.5 M532.51,575.20v-2.6 M532.51,447.20v2.6 M538.54,575.20v-2.6 M538.54,447.20v2.6 M544.58,575.20v-2.6 M544.58,447.20v2.6 M550.61,575.20v-4.5 M550.61,447.20v4.5 M556.65,575.20v-2.6 M556.65,447.20v2.6 M562.69,575.20v-2.6 M562.69,447.20v2.6 M568.72,575.20v-2.6 M568.72,447.20v2.6 M574.76,575.20v-4.5 M574.76,447.20v4.5 M580.79,575.20v-2.6 M580.79,447.20v2.6 M586.83,575.20v-2.6 M586.83,447.20v2.6 M592.86,575.20v-2.6 M592.86,447.20v2.6 M429.90,564.53h3.0 M598.90,564.53h-3.0 M429.90,553.87h3.0 M598.90,553.87h-3.0 M429.90,543.20h3.0 M598.90,543.20h-3.0 M429.90,532.53h6.0 M598.90,532.53h-6.0 M429.90,521.87h3.0 M598.90,521.87h-3.0 M429.90,511.20h3.0 M598.90,511.20h-3.0 M429.90,500.53h3.0 M598.90,500.53h-3.0 M429.90,489.87h6.0 M598.90,489.87h-6.0 M429.90,479.20h3.0 M598.90,479.20h-3.0 M429.90,468.53h3.0 M598.90,468.53h-3.0 M429.90,457.87h3.0 M598.90,457.87h-3.0" stroke="#000" stroke-width="1.6" fill="none"/>
<rect x="429.90" y="447.20" width="169.0" height="128.0" stroke="#000" stroke-width="2" fill="none"/>
<path d="M430.40,526.70H597.90" stroke="#0c0cc8" stroke-width="1.3" stroke-dasharray="8 6.7" stroke-dashoffset="4.7"/>
<path d="M433.70,539.00H597.90" stroke="#e01212" stroke-width="1.3" stroke-dasharray="7.4 7.3"/>
<path d="M432.10,546.00 L438.70,540.10 L444.60,548.90 L451.90,556.30 L457.10,538.70 L462.20,534.30 L469.50,534.30 L476.90,533.50 L482.00,538.70 L486.40,520.30 L493.00,520.30 L498.90,529.90 L504.70,539.40 L510.60,543.10 L516.90,553.40 L522.90,544.50 L528.80,536.70 L534.70,538.60 L540.70,545.30 L546.60,533.40 L552.50,528.20 L560.00,538.60 L565.90,527.50 L571.80,537.10 L577.70,543.00 L588.10,549.00 L595.50,543.00" stroke="#e01212" stroke-width="1.5" fill="none" stroke-linejoin="round"/>
<path d="M430.50,523.20 L438.70,523.70 L444.60,526.20 L451.90,528.10 L457.80,527.70 L462.20,523.70 L468.80,520.30 L473.90,521.80 L479.80,524.70 L485.70,528.40 L493.00,529.90 L500.30,530.60 L509.10,530.60 L511.00,530.40 L516.90,533.40 L522.90,537.10 L528.80,540.80 L536.20,539.30 L540.70,534.90 L546.60,526.00 L552.50,519.80 L558.50,517.80 L564.40,515.30 L570.30,515.30 L577.70,517.80 L585.20,518.30 L595.50,518.90" stroke="#0c0cc8" stroke-width="1.7" fill="none" stroke-linejoin="round"/>
<text transform="translate(488.58,478.00) scale(0.93,1)" x="0" y="0" font-family='"Liberation Sans", sans-serif' font-size="13.33" textLength="55.25" lengthAdjust="spacing" fill="#000" stroke="#000" stroke-width="0.4">CR1924</text>
<text x="29.44" y="456.70" font-family='"Liberation Sans", sans-serif' font-size="12.19" textLength="25.75" lengthAdjust="spacingAndGlyphs" fill="#000" stroke="#000" stroke-width="0.4">800</text>
<text x="29.32" y="494.30" font-family='"Liberation Sans", sans-serif' font-size="11.76" textLength="25.87" lengthAdjust="spacingAndGlyphs" fill="#000" stroke="#000" stroke-width="0.4">600</text>
<text x="29.76" y="537.60" font-family='"Liberation Sans", sans-serif' font-size="12.04" textLength="25.43" lengthAdjust="spacingAndGlyphs" fill="#000" stroke="#000" stroke-width="0.4">400</text>
<text x="29.32" y="574.70" font-family='"Liberation Sans", sans-serif' font-size="12.04" textLength="25.87" lengthAdjust="spacingAndGlyphs" fill="#000" stroke="#000" stroke-width="0.4">200</text>
<text transform="translate(14.20,553.88) rotate(-90) scale(1.0,1)" x="0" y="0" font-family='"Liberation Sans", sans-serif' font-size="16.29" textLength="83.96" lengthAdjust="spacing" fill="#000" stroke="#000" stroke-width="0.4">Vr (km/s)</text>
<rect x="57.4" y="564.4" width="1.4" height="9.1" fill="#d8d8d8"/>
<text x="277.19" y="601.30" font-family='"Liberation Serif", serif' font-size="19.08" font-style="italic" textLength="33.19" lengthAdjust="spacingAndGlyphs" fill="#111">Time</text>
<text x="315.24" y="601.30" font-family='"Liberation Serif", serif' font-size="19.08" font-style="italic" textLength="40.27" lengthAdjust="spacingAndGlyphs" fill="#111">(days)</text>
<text x="223.42" y="623.03" font-family='"Liberation Serif", serif' font-size="12.56" textLength="15.16" lengthAdjust="spacingAndGlyphs" fill="#111">(c)</text>
<text x="244.74" y="623.00" font-family='"Liberation Serif", serif' font-size="12.37" font-style="italic" textLength="73.33" lengthAdjust="spacingAndGlyphs" fill="#111" stroke="#111" stroke-width="0.2">WSA/ENLIL</text>
<text x="323.11" y="623.00" font-family='"Liberation Serif", serif' font-size="12.37" font-style="italic" textLength="29.69" lengthAdjust="spacingAndGlyphs" fill="#111" stroke="#111" stroke-width="0.2">using</text>
<text x="357.21" y="623.00" font-family='"Liberation Serif", serif' font-size="12.37" font-style="italic" textLength="26.70" lengthAdjust="spacingAndGlyphs" fill="#111" stroke="#111" stroke-width="0.2">NSO</text>
</svg>
</body></html>
